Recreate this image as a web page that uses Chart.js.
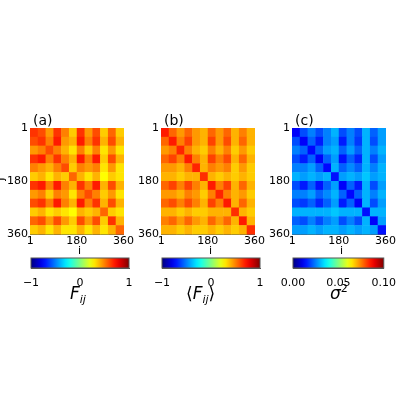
<!DOCTYPE html>
<html><head><meta charset="utf-8">
<script src="https://cdn.jsdelivr.net/npm/chart.js@4.4.0/dist/chart.umd.min.js"></script>
<style>
body{margin:0;width:400px;height:400px;background:#fff;position:relative;font-family:"DejaVu Sans",sans-serif;overflow:hidden}
.b{position:absolute}
.t{position:absolute;font-size:14px;color:#000}
</style></head><body>
<div class="b" style="left:0;top:110px;width:135px;height:145px"><canvas id="h0"></canvas></div>
<div class="b" style="left:131px;top:110px;width:135px;height:145px"><canvas id="h1"></canvas></div>
<div class="b" style="left:262px;top:110px;width:135px;height:145px"><canvas id="h2"></canvas></div>
<div class="b" style="left:0;top:252px;width:135px;height:35px"><canvas id="c0"></canvas></div>
<div class="b" style="left:131px;top:252px;width:135px;height:35px"><canvas id="c1"></canvas></div>
<div class="b" style="left:262px;top:252px;width:135px;height:35px"><canvas id="c2"></canvas></div>
<div class="t" style="left:33px;top:112px">(a)</div>
<div class="t" style="left:164px;top:112px">(b)</div>
<div class="t" style="left:295px;top:112px">(c)</div>
<div class="t" style="left:-3px;top:172px;transform:rotate(-90deg);font-size:12px">j</div>
<div class="t" style="left:78px;top:244px;font-size:11px">i</div>
<div class="t" style="left:209px;top:244px;font-size:11px">i</div>
<div class="t" style="left:340px;top:244px;font-size:11px">i</div>
<div class="t" style="left:70px;top:283px;font-size:17px;font-style:italic">F<sub style="font-size:11px">ij</sub></div>
<div class="t" style="left:186px;top:283px;font-size:17px">⟨<i>F<sub style="font-size:11px">ij</sub></i>⟩</div>
<div class="t" style="left:330px;top:282px;font-size:17px"><i>σ</i><sup style="font-size:11px">2</sup></div>
<script>
const tickLabels=[1,180,360];
const Fij=[
[.65,.6,.45,.65,.5,.35,.65,.45,.6,.35,.55,.35],
[.6,.65,.5,.7,.45,.4,.7,.5,.65,.4,.6,.4],
[.45,.5,.6,.5,.4,.3,.5,.35,.5,.3,.45,.3],
[.65,.7,.5,.65,.5,.4,.7,.5,.7,.35,.6,.4],
[.5,.45,.4,.5,.6,.35,.5,.45,.5,.3,.45,.3],
[.35,.4,.3,.4,.35,.55,.4,.3,.4,.25,.35,.3],
[.65,.7,.5,.7,.5,.4,.65,.5,.7,.4,.6,.4],
[.45,.5,.35,.5,.45,.3,.5,.6,.5,.35,.45,.3],
[.6,.65,.5,.7,.5,.4,.7,.5,.65,.4,.6,.4],
[.35,.4,.3,.35,.3,.25,.4,.35,.4,.55,.35,.3],
[.55,.6,.45,.6,.45,.35,.6,.45,.6,.35,.65,.4],
[.35,.4,.3,.4,.3,.3,.4,.3,.4,.3,.4,.55]];
const meanFij=[
[.7,.55,.45,.55,.45,.4,.55,.45,.55,.4,.5,.4],
[.55,.7,.5,.62,.45,.4,.62,.45,.6,.4,.55,.4],
[.45,.5,.68,.5,.4,.35,.5,.4,.5,.35,.45,.35],
[.55,.62,.5,.7,.5,.4,.62,.5,.6,.4,.55,.4],
[.45,.45,.4,.5,.68,.4,.5,.45,.5,.35,.45,.35],
[.4,.4,.35,.4,.4,.66,.4,.35,.4,.35,.4,.35],
[.55,.62,.5,.62,.5,.4,.7,.5,.62,.4,.55,.4],
[.45,.45,.4,.5,.45,.35,.5,.68,.5,.4,.45,.35],
[.55,.6,.5,.6,.5,.4,.62,.5,.7,.4,.55,.4],
[.4,.4,.35,.4,.35,.35,.4,.4,.4,.66,.4,.35],
[.5,.55,.45,.55,.45,.4,.55,.45,.55,.4,.7,.4],
[.4,.4,.35,.4,.35,.35,.4,.35,.4,.35,.4,.66]];
const sigma2=[
[.012,.02,.025,.02,.025,.03,.02,.025,.02,.03,.022,.028],
[.02,.012,.022,.015,.025,.028,.015,.025,.018,.03,.02,.028],
[.025,.022,.013,.022,.028,.03,.022,.028,.022,.03,.025,.03],
[.02,.015,.022,.012,.022,.028,.014,.022,.016,.03,.02,.028],
[.025,.025,.028,.022,.013,.03,.022,.026,.022,.03,.025,.03],
[.03,.028,.03,.028,.03,.014,.028,.03,.028,.032,.028,.03],
[.02,.015,.022,.014,.022,.028,.012,.022,.015,.03,.02,.028],
[.025,.025,.028,.022,.026,.03,.022,.013,.022,.03,.025,.03],
[.02,.018,.022,.016,.022,.028,.015,.022,.012,.03,.02,.028],
[.03,.03,.03,.03,.03,.032,.03,.03,.03,.014,.03,.03],
[.022,.02,.025,.02,.025,.028,.02,.025,.02,.03,.012,.028],
[.028,.028,.03,.028,.03,.03,.028,.03,.028,.03,.028,.014]];
const ranges=[[-1,1],[-1,1],[0,0.1]];
const cbTicks=[[-1,0,1],[-1,0,1],[0,0.05,0.1]];
const cbFmt=[v=>v===-1?'\u22121':String(v),v=>v===-1?'\u22121':String(v),v=>v.toFixed(2)];

function jet(t){t=Math.max(0,Math.min(1,t));
 const r=Math.max(0,Math.min(1,1.5-Math.abs(4*t-3))),g=Math.max(0,Math.min(1,1.5-Math.abs(4*t-2))),b=Math.max(0,Math.min(1,1.5-Math.abs(4*t-1)));
 return `rgb(${Math.round(r*255)},${Math.round(g*255)},${Math.round(b*255)})`;}
Chart.defaults.font.family='"DejaVu Sans",sans-serif';
Chart.defaults.color='#000';
const N=12,step=360/N;
function heat(id,M,rg){
 const pts=[];M.forEach((row,j)=>row.forEach((v,i)=>pts.push({x:i*step+step/2,y:j*step+step/2,v})));
 new Chart(document.getElementById(id),{type:'scatter',
  data:{datasets:[{data:pts,pointRadius:0}]},
  options:{responsive:true,maintainAspectRatio:false,animation:false,
   layout:{padding:{top:18,right:6,left:0,bottom:0}},
   plugins:{legend:{display:false},tooltip:{enabled:false}},
   scales:{
    x:{type:'linear',min:0,max:360,grid:{display:false,tickLength:0},border:{color:'#555'},
       afterBuildTicks:a=>{a.ticks=tickLabels.map(v=>({value:v}))},
       ticks:{font:{size:11},maxRotation:0,padding:1,autoSkip:false},
       afterFit:a=>{a.height=21}},
    y:{type:'linear',min:0,max:360,reverse:true,grid:{display:false,tickLength:0},border:{color:'#555'},
       afterBuildTicks:a=>{a.ticks=tickLabels.map(v=>({value:v}))},
       ticks:{font:{size:11},padding:2,autoSkip:false},
       afterFit:a=>{a.width=30}}}},
  plugins:[{id:'cells',beforeDatasetsDraw(c){const ctx=c.ctx,xs=c.scales.x,ys=c.scales.y;
    pts.forEach(p=>{const x0=xs.getPixelForValue(p.x-step/2),x1=xs.getPixelForValue(p.x+step/2),
     y0=ys.getPixelForValue(p.y-step/2),y1=ys.getPixelForValue(p.y+step/2);
     ctx.fillStyle=jet((p.v-rg[0])/(rg[1]-rg[0]));ctx.fillRect(x0,y0,x1-x0+0.5,y1-y0+0.5);});}}]
 });}
function cbar(id,k){const rg=ranges[k];
 new Chart(document.getElementById(id),{type:'scatter',data:{datasets:[{data:[]}]},
  options:{responsive:true,maintainAspectRatio:false,animation:false,
   layout:{padding:{top:6,right:6,left:31,bottom:0}},
   plugins:{legend:{display:false},tooltip:{enabled:false}},
   scales:{x:{type:'linear',min:rg[0],max:rg[1],grid:{display:false,drawTicks:true},border:{color:'#555'},
      afterBuildTicks:a=>{a.ticks=cbTicks[k].map(v=>({value:v}))},
      ticks:{font:{size:11},maxRotation:0,padding:1,autoSkip:false,callback:v=>cbFmt[k](v)},
      afterFit:a=>{a.height=19}},
    y:{display:false,min:0,max:1}}},
  plugins:[{id:'grad',beforeDatasetsDraw(c){const ctx=c.ctx,a=c.chartArea,xs=c.scales.x;
    const g=ctx.createLinearGradient(xs.getPixelForValue(rg[0]),0,xs.getPixelForValue(rg[1]),0);
    for(let s=0;s<=20;s++)g.addColorStop(s/20,jet(s/20));
    ctx.fillStyle=g;ctx.fillRect(a.left,a.top,a.right-a.left,a.bottom-a.top);
    ctx.strokeStyle='#555';ctx.strokeRect(a.left,a.top,a.right-a.left,a.bottom-a.top);}}]});}
heat('h0',Fij,ranges[0]);heat('h1',meanFij,ranges[1]);heat('h2',sigma2,ranges[2]);
cbar('c0',0);cbar('c1',1);cbar('c2',2);
</script></body></html>
